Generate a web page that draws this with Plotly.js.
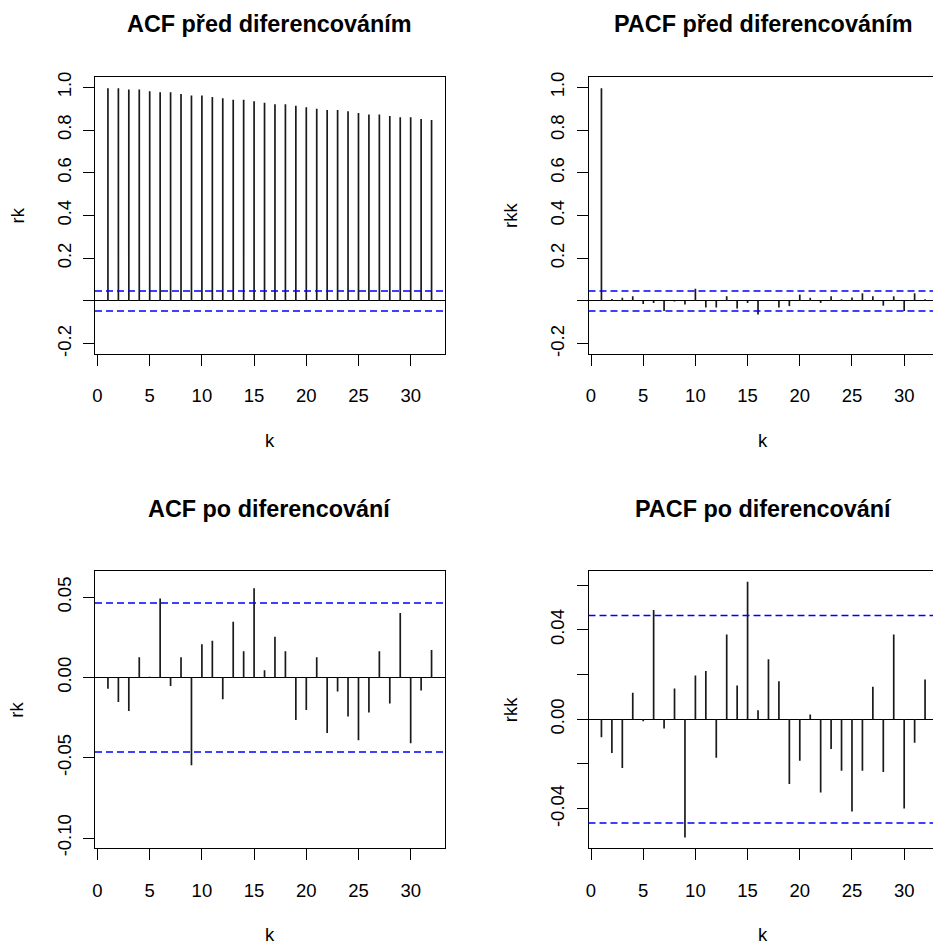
<!DOCTYPE html>
<html>
<head>
<meta charset="utf-8">
<script src="https://cdn.plot.ly/plotly-3.0.1.min.js"></script>
<style>
  html, body { margin: 0; padding: 0; overflow: hidden; background: #fff; }
  #chart { width: 945px; height: 944px; }
</style>
</head>
<body>
<div id="chart"></div>
<script>
// Lags 1..32
const lags = Array.from({length: 32}, (_, i) => i + 1);

// Autocorrelations of the original series
const acfBefore = [0.995, 0.995, 0.989, 0.989, 0.981, 0.977, 0.977, 0.969,
                   0.961, 0.961, 0.955, 0.949, 0.942, 0.942, 0.935, 0.928,
                   0.921, 0.921, 0.914, 0.907, 0.900, 0.894, 0.894, 0.888,
                   0.880, 0.872, 0.872, 0.866, 0.860, 0.860, 0.852, 0.847];

// Partial autocorrelations of the original series
const pacfBefore = [0.995, 0.009, 0.015, 0.022, -0.014, -0.009, -0.047, -0.002,
                    -0.016, 0.057, -0.030, -0.030, 0.022, -0.035, -0.009, -0.063,
                    0.002, -0.030, -0.024, 0.030, 0.015, -0.009, 0.022, 0.008,
                    0.016, 0.036, 0.022, -0.022, 0.022, -0.047, 0.036, 0.008];

// Autocorrelations of the differenced series
const acfAfter = [-0.0069, -0.0152, -0.0208, 0.0127, 0.0005, 0.0493, -0.0052, 0.0127,
                  -0.0547, 0.0208, 0.0229, -0.0135, 0.0347, 0.0164, 0.0557, 0.0046,
                  0.0254, 0.0164, -0.0264, -0.0202, 0.0127, -0.0345, -0.0087, -0.0243,
                  -0.0391, -0.0218, 0.0164, -0.0162, 0.0403, -0.0409, -0.0081, 0.0172];

// Partial autocorrelations of the differenced series
const pacfAfter = [-0.0080, -0.0151, -0.0218, 0.0119, -0.0009, 0.0489, -0.0041, 0.0138,
                   -0.0529, 0.0196, 0.0216, -0.0172, 0.0379, 0.0151, 0.0615, 0.0040,
                   0.0268, 0.0170, -0.0289, -0.0185, 0.0021, -0.0327, -0.0133, -0.0230,
                   -0.0413, -0.0230, 0.0145, -0.0236, 0.0379, -0.0399, -0.0105, 0.0178];

// Significance bound (approx. 1.96/sqrt(n))
const confLimit = 0.0464;

const panelTitles = ["ACF před diferencováním", "PACF před diferencováním",
                     "ACF po diferencování", "PACF po diferencování"];
const yLabels = ["rk", "rkk", "rk", "rkk"];
const xLabel = "k";

const xTicks = [0, 5, 10, 15, 20, 25, 30];
const yTicksTop = [-0.2, 0, 0.2, 0.4, 0.6, 0.8, 1.0];
const yTickTextTop = ["-0.2", "", "0.2", "0.4", "0.6", "0.8", "1.0"];
const yTicksAcfAfter = [-0.10, -0.05, 0, 0.05];
const yTickTextAcfAfter = ["-0.10", "-0.05", "0.00", "0.05"];
const yTicksPacfAfter = [-0.04, -0.02, 0, 0.02, 0.04, 0.06];
const yTickTextPacfAfter = ["-0.04", "", "0.00", "", "0.04", ""];

// ---- layout geometry (pixels of the 945 x 944 paper) ----
const W = 945, H = 944;
const px = v => v / W;
const py = v => 1 - v / H;
const colBox = [[95, 444.5], [588.5, 938]];
const rowBox = [[77, 354], [571, 848.3]];

const FONT = "Liberation Sans, Arial, Helvetica, sans-serif";

function stems(xs, ys) {
  const x = [], y = [];
  xs.forEach((k, i) => { x.push(k, k, null); y.push(0, ys[i], null); });
  return {x, y};
}

const series = [acfBefore, pacfBefore, acfAfter, pacfAfter];
const yRanges = [[-0.248, 1.048], [-0.248, 1.048], [-0.1064, 0.0664], [-0.0577, 0.0663]];
const yTickVals = [yTicksTop, yTicksTop, yTicksAcfAfter, yTicksPacfAfter];
const yTickTexts = [yTickTextTop, yTickTextTop, yTickTextAcfAfter, yTickTextPacfAfter];

const traces = [];
const layout = {
  width: W, height: H,
  margin: {l: 0, r: 0, t: 0, b: 0},
  paper_bgcolor: "#fff", plot_bgcolor: "#fff",
  showlegend: false,
  font: {family: FONT, color: "#000", size: 18},
  shapes: [], annotations: []
};

series.forEach((vals, i) => {
  const n = i + 1;
  const row = Math.floor(i / 2), col = i % 2;
  const xa = n === 1 ? "x" : "x" + n, ya = n === 1 ? "y" : "y" + n;
  const s = stems(lags, vals);
  traces.push({
    type: "scatter", mode: "lines", x: s.x, y: s.y,
    xaxis: xa, yaxis: ya, connectgaps: false,
    line: {color: "#1a1a1a", width: 1.7}, hoverinfo: "skip"
  });

  const common = {
    showline: true, mirror: true, linecolor: "#000", linewidth: 1,
    ticks: "outside", ticklen: 11, tickwidth: 1, tickcolor: "#000",
    showgrid: false, fixedrange: true,
    tickfont: {family: FONT, size: 18.5, color: "#000"}
  };
  layout["xaxis" + (n === 1 ? "" : n)] = Object.assign({}, common, {
    domain: [px(colBox[col][0]), px(colBox[col][1])],
    anchor: ya, range: [-0.24, 33.24],
    tickmode: "array", tickvals: xTicks, ticktext: xTicks.map(String),
    zeroline: false, ticklabelstandoff: 14
  });
  layout["yaxis" + (n === 1 ? "" : n)] = Object.assign({}, common, {
    domain: [py(rowBox[row][1]), py(rowBox[row][0])],
    anchor: xa, range: yRanges[i],
    tickmode: "array", tickvals: yTickVals[i], ticktext: yTickTexts[i],
    tickangle: -90, zeroline: true, zerolinecolor: "#000", zerolinewidth: 1,
    ticklabelstandoff: 5
  });

  [confLimit, -confLimit].forEach(c => layout.shapes.push({
    type: "line", xref: xa + " domain", yref: ya,
    x0: 0, x1: 1, y0: c, y1: c,
    line: {color: "#0000ff", width: 1.5, dash: "7px,4px"}
  }));

  const cx = (colBox[col][0] + colBox[col][1]) / 2;
  const cy = (rowBox[row][0] + rowBox[row][1]) / 2;
  const titleY = row === 0 ? 24 : 509;
  const kY = row === 0 ? 440 : 934;
  const labX = col === 0 ? 17 : 510.5;

  layout.annotations.push(
    {text: "<b>" + panelTitles[i] + "</b>", xref: "paper", yref: "paper",
     x: px(cx), y: py(titleY), xanchor: "center", yanchor: "middle",
     showarrow: false, font: {family: FONT, size: 23.4, color: "#000"}},
    {text: xLabel, xref: "paper", yref: "paper",
     x: px(cx), y: py(kY), xanchor: "center", yanchor: "middle",
     showarrow: false, font: {family: FONT, size: 18.5, color: "#000"}},
    {text: yLabels[i], xref: "paper", yref: "paper",
     x: px(labX), y: py(cy), xanchor: "center", yanchor: "middle",
     textangle: -90, showarrow: false, font: {family: FONT, size: 18.5, color: "#000"}}
  );
});

Plotly.newPlot("chart", traces, layout, {displayModeBar: false, staticPlot: true});
</script>
</body>
</html>
